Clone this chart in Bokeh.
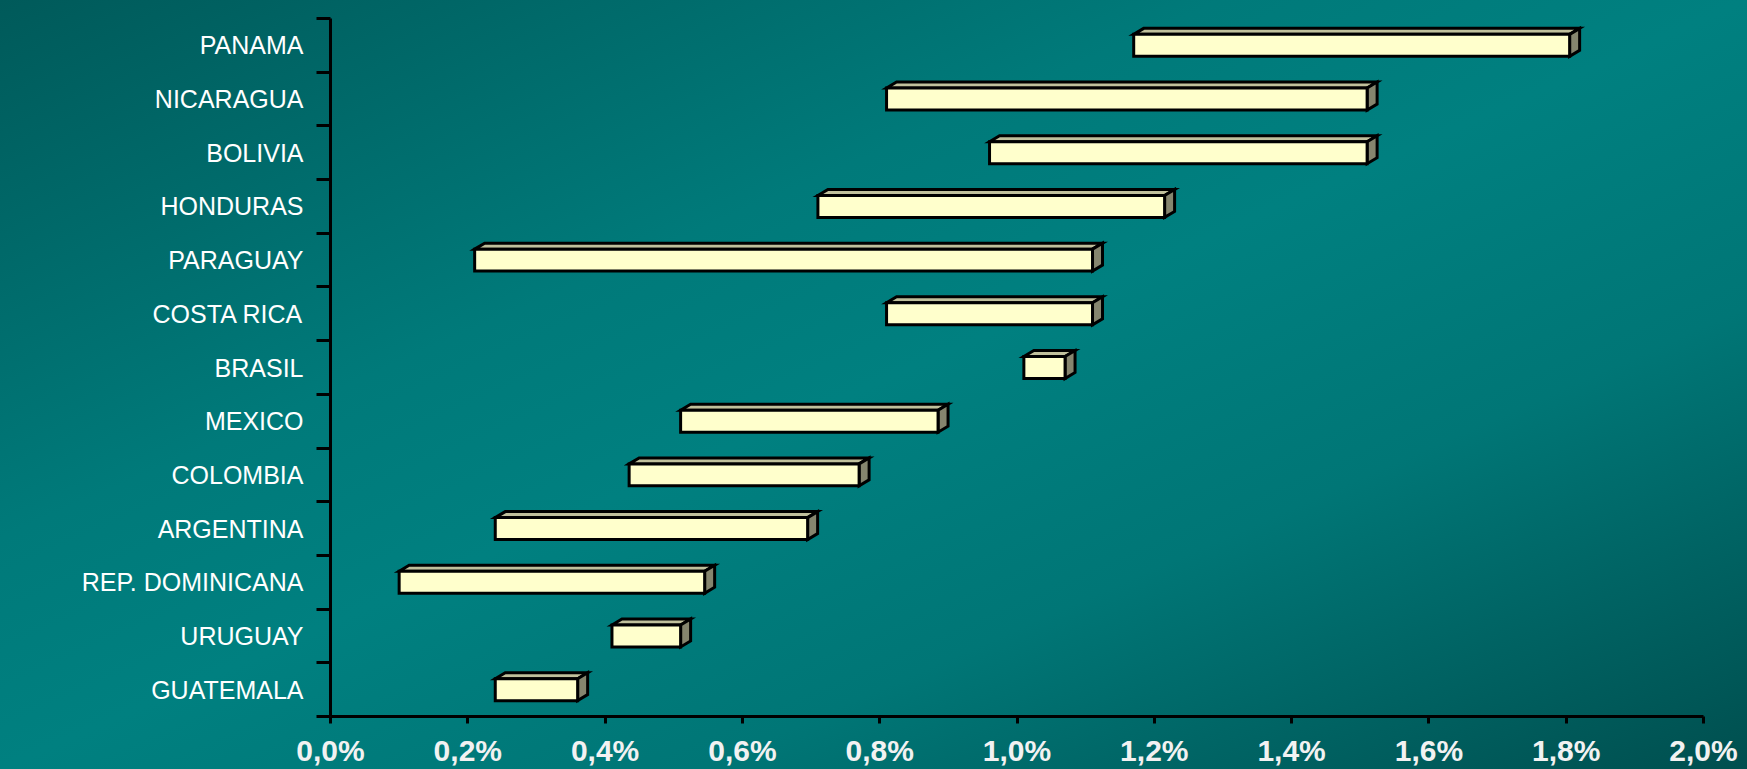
from bokeh.plotting import figure
from bokeh.models import Range1d, FixedTicker, ColumnDataSource
from bokeh.embed import file_html
from bokeh.resources import INLINE

# ---- data (bottom to top) ----
countries = ["GUATEMALA", "URUGUAY", "REP. DOMINICANA", "ARGENTINA", "COLOMBIA",
             "MEXICO", "BRASIL", "COSTA RICA", "PARAGUAY", "HONDURAS",
             "BOLIVIA", "NICARAGUA", "PANAMA"]
range_low = [0.24, 0.41, 0.10, 0.24, 0.435, 0.51, 1.01, 0.81, 0.21, 0.71, 0.96, 0.81, 1.17]
range_high = [0.36, 0.51, 0.545, 0.695, 0.77, 0.885, 1.07, 1.11, 1.11, 1.215, 1.51, 1.51, 1.805]
x_ticks = [0.0, 0.2, 0.4, 0.6, 0.8, 1.0, 1.2, 1.4, 1.6, 1.8, 2.0]
x_tick_labels = ["0,0%", "0,2%", "0,4%", "0,6%", "0,8%", "1,0%", "1,2%", "1,4%", "1,6%", "1,8%", "2,0%"]

# ---- style constants ----
W, H = 1747, 769
ML, MR, MT, MB = 330, 44, 18, 52
n = len(countries)
X0, X1 = 0.0, 2.0
frame_w = W - ML - MR
frame_h = H - MT - MB
px_x = (X1 - X0) / frame_w
px_y = n / frame_h
DX = 10 * px_x          # 3-D depth, horizontal
DY = 6 * px_y           # 3-D depth, vertical
HALF = 11 * px_y        # half bar height

centers = [i + 0.5 for i in range(n)]
bounds = [float(i) for i in range(n + 1)]

p = figure(width=W, height=H, output_backend="svg", toolbar_location=None,
           x_range=Range1d(X0, X1), y_range=Range1d(0, n),
           min_border_left=ML, min_border_right=MR, min_border_top=MT, min_border_bottom=MB)
p.border_fill_color = None
p.background_fill_color = None
p.outline_line_color = None
p.styles = {"background": "linear-gradient(to bottom right, #005a5a 0%, #007a7a 35%, #008080 50%, #007676 70%, #004f4f 100%)"}
p.grid.visible = False

# faces of the 3-D bars
top_xs, top_ys, side_xs, side_ys = [], [], [], []
for lo, hi, c in zip(range_low, range_high, centers):
    yt, yb = c + HALF, c - HALF
    top_xs.append([lo, lo + DX, hi + DX, hi])
    top_ys.append([yt, yt + DY, yt + DY, yt])
    side_xs.append([hi, hi + DX, hi + DX, hi])
    side_ys.append([yt, yt + DY, yb + DY, yb])

p.patches(top_xs, top_ys, fill_color="#c0c09c", line_color="black", line_width=3, line_join="miter")
p.patches(side_xs, side_ys, fill_color="#85856e", line_color="black", line_width=3, line_join="miter")
src = ColumnDataSource(dict(left=range_low, right=range_high,
                            bottom=[c - HALF for c in centers], top=[c + HALF for c in centers]))
p.quad(left="left", right="right", bottom="bottom", top="top", source=src,
       fill_color="#ffffcc", line_color="black", line_width=3, line_join="miter")

# x axis
xa = p.xaxis[0]
xa.ticker = FixedTicker(ticks=x_ticks, minor_ticks=[])
xa.major_label_overrides = {t: s for t, s in zip(x_ticks, x_tick_labels)}
xa.axis_line_width = 3
xa.axis_line_color = "black"
xa.major_tick_line_width = 3
xa.major_tick_line_color = "black"
xa.major_tick_out = 7
xa.major_tick_in = 0
xa.major_label_standoff = 10
xa.major_label_text_font = "Liberation Sans"
xa.major_label_text_font_style = "bold"
xa.major_label_text_font_size = "30px"
xa.major_label_text_color = "#f2f2f2"

# y axis: labels at category centres, ticks at category boundaries
ya = p.yaxis[0]
ya.ticker = FixedTicker(ticks=centers, minor_ticks=bounds)
ya.major_label_overrides = {c: name for c, name in zip(centers, countries)}
ya.axis_line_width = 3
ya.axis_line_color = "black"
ya.major_tick_out = 0
ya.major_tick_in = 0
ya.minor_tick_out = 14
ya.minor_tick_in = 0
ya.minor_tick_line_width = 3
ya.minor_tick_line_color = "black"
ya.major_label_standoff = 13
ya.major_label_text_font = "Liberation Sans"
ya.major_label_text_font_size = "25px"
ya.major_label_text_color = "white"

open("out.html", "w").write(file_html(p, INLINE))
